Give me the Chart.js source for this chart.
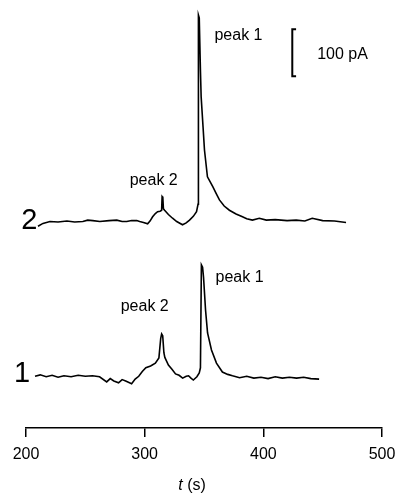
<!DOCTYPE html>
<html>
<head>
<meta charset="utf-8">
<script src="https://cdn.jsdelivr.net/npm/chart.js@4/dist/chart.umd.min.js"></script>
<style>
  html, body { margin: 0; padding: 0; background: #fff; }
  #wrap { width: 395px; height: 493px; }
</style>
</head>
<body>
<div id="wrap"><canvas id="trace"></canvas></div>
<script>
// Time ticks on the x axis (s)
const timeTicks = [200, 300, 400, 500];

// Trace 1 (lower), time in s and current in pA
const trace1Time = [207.6, 212, 217, 222, 227, 232, 238, 244, 250, 256, 262, 268, 271, 274, 278, 281, 284, 289, 292, 295,
  298, 301, 305, 309, 312, 313.5, 314.3, 315.2, 316.2, 317, 320, 323, 326, 329, 332, 335, 337, 339, 341, 344,
  346, 347, 347.8, 348.8, 349.6, 351.3, 353, 356.3, 360.5, 365.5, 370, 374, 380, 386, 392, 398, 404, 410, 416, 422,
  428, 434, 440, 447];
const trace1Current = [0, 3, -1, 2, -2, 1, -1, 2, 0, 1, -1, -12, -5, -10, -14, -7, -10, -16, -6, 0,
  10, 18, 22, 28, 39, 80, 90, 86, 50, 40, 24, 15, 5, 2, -4, 0, 1, -4, -8, -1,
  7, 18, 237, 232, 211, 141, 92, 56, 28, 9, 4, 1, -3, 0, -4, -2, -5, -1, -4, -2,
  -4, -2, -5, -6];

// Trace 2 (upper), shifted up on the same current scale
const trace2Time = [210.1, 214.3, 220.2, 227, 234.5, 241, 247.9, 252, 256.3, 262.2, 270, 276.5, 281, 284.9, 289, 293.3,
  295.8, 299, 302.5, 304.5, 306.7, 309, 310.9, 313, 314.3, 314.7, 315.3, 315.8, 316.8, 320, 323.5, 327, 331.9,
  335, 337.8, 341, 343.7, 345.0, 345.3, 346.0, 347.0, 347.6, 349.2, 350.4, 352.9, 357.4, 360.2, 363, 367, 371.4,
  377, 382.4, 386, 390.8, 396.6, 402.5, 410, 420, 427.7, 435, 441.2, 450, 460, 469.7];
const trace2Current = [319, 325, 329, 328, 330, 328, 329, 332, 331, 329, 331, 332, 329, 329, 331, 331,
  329, 327, 324, 330, 339, 346, 350, 351, 353, 382, 380, 356, 353, 344, 336, 329, 322,
  326, 332, 340, 350, 366, 768, 762, 650, 594, 530, 481, 424, 403, 389, 375, 362, 353,
  345, 339, 335, 332, 336, 332, 333, 331, 332, 330, 336, 331, 330, 327];

// 100 pA scale bar
const scaleBarTime = [427.6, 424.4, 424.4, 427.6];
const scaleBarCurrent = [738, 738, 638, 638];

// Text labels: [text, time, current]
const peakLabels = [
  ['peak 1', 358.8, 725],
  ['peak 2', 287.4, 415],
  ['peak 1', 359.7, 209],
  ['peak 2', 279.8, 148],
  ['100 pA', 445.4, 683]
];
const traceNames = [['2', 209.5, 330], ['1', 203.4, 4]];

const toPoints = (xs, ys) => xs.map((x, i) => ({ x: x, y: ys[i] }));

const textPlugin = {
  id: 'texts',
  afterDraw(chart) {
    const ctx = chart.ctx;
    const xs = chart.scales.x, ys = chart.scales.y;
    ctx.save();
    ctx.fillStyle = '#000';
    ctx.textBaseline = 'middle';
    ctx.textAlign = 'left';
    ctx.font = '16px "Liberation Sans", Arial, sans-serif';
    peakLabels.forEach(([txt, t, v]) => {
      ctx.fillText(txt, xs.getPixelForValue(t), ys.getPixelForValue(v));
    });
    ctx.textAlign = 'right';
    ctx.font = '29px "Liberation Sans", Arial, sans-serif';
    traceNames.forEach(([txt, t, v]) => {
      ctx.fillText(txt, xs.getPixelForValue(t), ys.getPixelForValue(v));
    });
    // axis title: italic t followed by (s)
    const cx = xs.getPixelForValue(340);
    const cy = 486;
    ctx.textAlign = 'left';
    ctx.font = 'italic 16px "Liberation Sans", Arial, sans-serif';
    const w1 = ctx.measureText('t').width;
    ctx.font = '16px "Liberation Sans", Arial, sans-serif';
    const w2 = ctx.measureText(' (s)').width;
    const x0 = cx - (w1 + w2) / 2;
    ctx.font = 'italic 16px "Liberation Sans", Arial, sans-serif';
    ctx.fillText('t', x0, cy);
    ctx.font = '16px "Liberation Sans", Arial, sans-serif';
    ctx.fillText(' (s)', x0 + w1, cy);
    ctx.restore();
  }
};

new Chart(document.getElementById('trace'), {
  type: 'line',
  data: {
    datasets: [
      { data: toPoints(trace1Time, trace1Current), borderColor: '#000', borderWidth: 1.6 },
      { data: toPoints(trace2Time, trace2Current), borderColor: '#000', borderWidth: 1.6 },
      { data: toPoints(scaleBarTime, scaleBarCurrent), borderColor: '#000', borderWidth: 2, borderCapStyle: 'butt' }
    ]
  },
  options: {
    responsive: true,
    maintainAspectRatio: false,
    animation: false,
    layout: { padding: { left: 26, right: 13, top: 0, bottom: 0 } },
    elements: { point: { radius: 0 }, line: { tension: 0 } },
    plugins: { legend: { display: false }, tooltip: { enabled: false } },
    scales: {
      x: {
        type: 'linear',
        min: 200,
        max: 500,
        afterBuildTicks: s => { s.ticks = timeTicks.map(v => ({ value: v })); },
        afterFit: s => { s.height = 65; s.paddingLeft = 0; s.paddingRight = 0; },
        border: { display: true, color: '#000', width: 1.5 },
        grid: { drawOnChartArea: false, drawTicks: true, tickLength: 9, color: '#000', lineWidth: 1.5 },
        ticks: { color: '#000', padding: 8, maxRotation: 0, font: { family: '"Liberation Sans", Arial, sans-serif', size: 16 } }
      },
      y: { display: false, min: -110, max: 800 }
    }
  },
  plugins: [textPlugin]
});
</script>
</body>
</html>
